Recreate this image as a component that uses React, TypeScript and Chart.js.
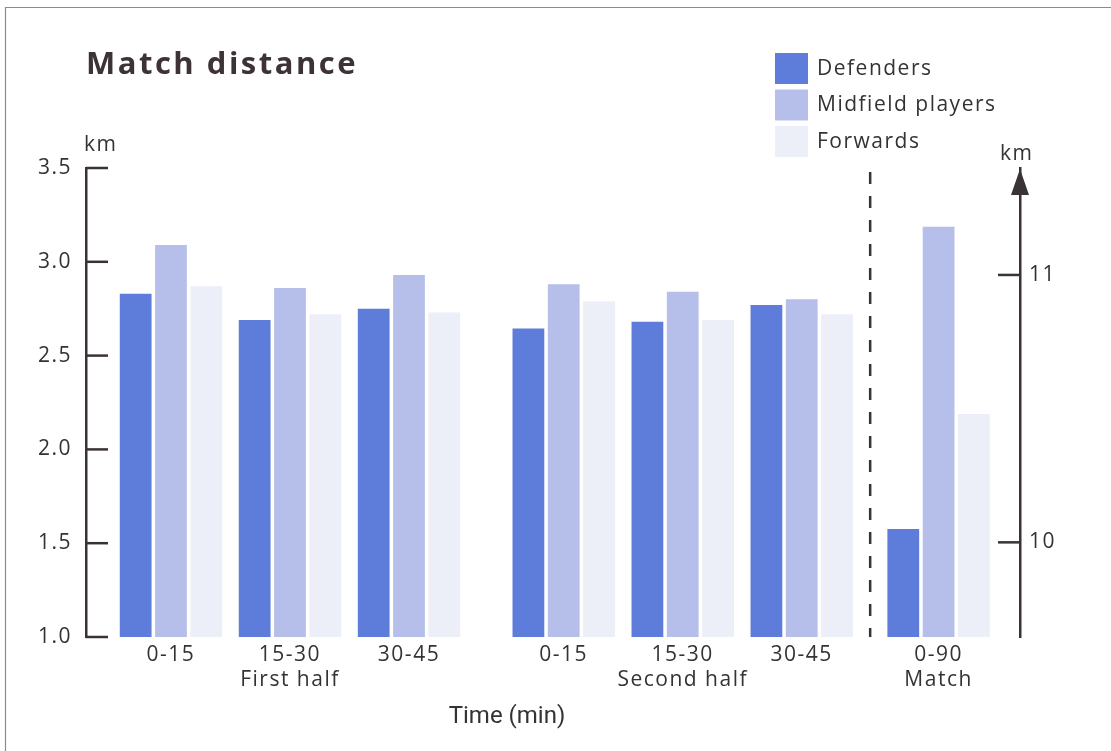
import React, { useEffect, useRef } from "react";
import { Chart, registerables } from "chart.js";

Chart.register(...registerables);

// ---- data ----
const timeLabels = ["0-15", "15-30", "30-45", "0-15", "15-30", "30-45", "0-90"];
const periodLabels = ["", "First half", "", "", "Second half", "", "Match"];
// positions of the time groups on the (linear) time axis: halves separated by a gap
const timeSlots = [0, 1, 2, 3.3, 4.3, 5.3, 6.45];
const seriesNames = ["Defenders", "Midfield players", "Forwards"];
// per 15-min period, km (left axis)
const defenders = [2.83, 2.69, 2.75, 2.645, 2.68, 2.77];
const midfield = [3.09, 2.86, 2.93, 2.88, 2.84, 2.8];
const forwards = [2.87, 2.72, 2.73, 2.79, 2.69, 2.72];
// whole match 0-90, km (right axis): Defenders, Midfield players, Forwards
const matchTotals = [10.05, 11.18, 10.48];
const leftTicks = [1.0, 1.5, 2.0, 2.5, 3.0, 3.5];
const rightTicks = [10, 11];

const COLORS = ["#5e7cda", "#b5bfe9", "#eceef8"];
const INK = "#3b3236";
const TEXT = "#333333";
const FONT = "'Open Sans', sans-serif";

const decor = {
  id: "decor",
  beforeDraw(chart: any) {
    const ctx = chart.ctx;
    ctx.save();
    ctx.fillStyle = "#ffffff";
    ctx.fillRect(0, 0, chart.width, chart.height);
    ctx.strokeStyle = "#8c8c8c";
    ctx.lineWidth = 1.2;
    ctx.beginPath();
    ctx.moveTo(5.5, chart.height);
    ctx.lineTo(5.5, 7.5);
    ctx.lineTo(chart.width, 7.5);
    ctx.stroke();
    ctx.restore();
    ctx.letterSpacing = "1.5px";
  },
  afterDraw(chart: any) {
    const { ctx, scales, chartArea } = chart;
    const xs = scales.x;
    const ys = scales.y;
    const y1 = scales.y1;
    ctx.save();
    ctx.strokeStyle = INK;
    ctx.fillStyle = INK;
    ctx.lineWidth = 2.5;
    // inward tick marks
    leftTicks.forEach((v) => {
      const py = ys.getPixelForValue(v);
      ctx.beginPath();
      ctx.moveTo(chartArea.left, py);
      ctx.lineTo(chartArea.left + 22, py);
      ctx.stroke();
    });
    rightTicks.forEach((v) => {
      const py = y1.getPixelForValue(v);
      ctx.beginPath();
      ctx.moveTo(chartArea.right - 22, py);
      ctx.lineTo(chartArea.right, py);
      ctx.stroke();
    });
    // arrow on right axis
    ctx.beginPath();
    ctx.moveTo(chartArea.right, chartArea.top + 1);
    ctx.lineTo(chartArea.right - 9, chartArea.top + 27);
    ctx.lineTo(chartArea.right + 9, chartArea.top + 27);
    ctx.closePath();
    ctx.fill();
    // dashed separator
    const dx = xs.getPixelForValue((timeSlots[5] + timeSlots[6]) / 2);
    ctx.setLineDash([12, 12]);
    ctx.lineWidth = 2.5;
    ctx.beginPath();
    ctx.moveTo(dx, chartArea.top + 4);
    ctx.lineTo(dx, chartArea.bottom);
    ctx.stroke();
    ctx.setLineDash([]);

    // texts
    ctx.textBaseline = "middle";
    ctx.textAlign = "left";
    // title
    ctx.fillStyle = "#3d3238";
    ctx.letterSpacing = "2.5px";
    ctx.font = `bold 31px ${FONT}`;
    ctx.fillText("Match distance", 86, 65);
    // km units
    ctx.letterSpacing = "1.5px";
    ctx.fillStyle = TEXT;
    ctx.font = `21px ${FONT}`;
    ctx.fillText("km", 84, 145);
    ctx.fillText("km", 1000, 154);
    // legend
    ctx.font = `21px ${FONT}`;
    seriesNames.forEach((name, i) => {
      const top = 53 + i * 36.5;
      ctx.fillStyle = COLORS[i];
      ctx.fillRect(775, top, 33, 31);
      ctx.fillStyle = TEXT;
      ctx.fillText(name, 817, top + 16);
    });
    // axis title
    ctx.letterSpacing = "0px";
    ctx.font = `24px Roboto, sans-serif`;
    ctx.textAlign = "center";
    ctx.fillText("Time (min)", 507, 717);
    ctx.restore();
  },
};

const pts = (vals: number[]) => vals.map((v, i) => ({ x: timeSlots[i], y: v }));

export default function App() {
  const ref = useRef<HTMLCanvasElement | null>(null);
  useEffect(() => {
    if (!ref.current) return;
    const chart = new Chart(ref.current, {
      type: "bar",
      data: {
        datasets: [
          { label: seriesNames[0], data: pts(defenders), backgroundColor: COLORS[0], yAxisID: "y" },
          { label: seriesNames[1], data: pts(midfield), backgroundColor: COLORS[1], yAxisID: "y" },
          { label: seriesNames[2], data: pts(forwards), backgroundColor: COLORS[2], yAxisID: "y" },
          { label: seriesNames[0] + " (match)", data: [{ x: timeSlots[6], y: matchTotals[0] }], backgroundColor: COLORS[0], yAxisID: "y1" },
          { label: seriesNames[1] + " (match)", data: [{ x: timeSlots[6], y: matchTotals[1] }], backgroundColor: COLORS[1], yAxisID: "y1" },
          { label: seriesNames[2] + " (match)", data: [{ x: timeSlots[6], y: matchTotals[2] }], backgroundColor: COLORS[2], yAxisID: "y1" },
        ],
      } as any,
      options: {
        animation: false,
        responsive: false,
        maintainAspectRatio: false,
        layout: { padding: { top: 168, left: 0, right: 0, bottom: 0 } },
        datasets: { bar: { skipNull: true, categoryPercentage: 0.89, barPercentage: 0.9 } } as any,
        plugins: { legend: { display: false }, tooltip: { enabled: false }, title: { display: false } },
        scales: {
          x: {
            type: "linear",
            min: -0.714,
            max: 7.134,
            offset: false,
            afterBuildTicks: (s: any) => {
              s.ticks = timeSlots.map((v) => ({ value: v }));
            },
            afterFit: (s: any) => {
              s.height = 114;
            },
            grid: { display: false, drawTicks: false },
            border: { display: false },
            ticks: {
              autoSkip: false,
              maxRotation: 0,
              padding: 5,
              color: TEXT,
              font: { family: FONT, size: 21, lineHeight: 1.2 },
              callback: (_v: any, i: number) => [timeLabels[i], periodLabels[i]],
            },
          },
          y: {
            type: "linear",
            position: "left",
            min: 1,
            max: 3.5,
            afterBuildTicks: (s: any) => {
              s.ticks = leftTicks.map((v) => ({ value: v }));
            },
            afterFit: (s: any) => {
              s.width = 86;
            },
            grid: { display: false, drawTicks: false },
            border: { display: true, color: INK, width: 2.5 },
            ticks: {
              padding: 14,
              color: TEXT,
              font: { family: FONT, size: 21 },
              callback: (v: any) => Number(v).toFixed(1),
            },
          },
          y1: {
            type: "linear",
            position: "right",
            min: 9.646,
            max: 11.4,
            afterBuildTicks: (s: any) => {
              s.ticks = rightTicks.map((v) => ({ value: v }));
            },
            afterFit: (s: any) => {
              s.width = 91;
            },
            grid: { display: false, drawTicks: false },
            border: { display: true, color: INK, width: 2.5 },
            ticks: {
              padding: 9,
              color: TEXT,
              font: { family: FONT, size: 21 },
              callback: (v: any) => String(v),
            },
          },
        },
      } as any,
      plugins: [decor],
    });
    return () => chart.destroy();
  }, []);
  return (
    <div style={{ position: "fixed", left: 0, top: 0, width: 1111, height: 751, background: "#fff" }}>
      <canvas ref={ref} width={1111} height={751} style={{ display: "block" }} />
    </div>
  );
}
